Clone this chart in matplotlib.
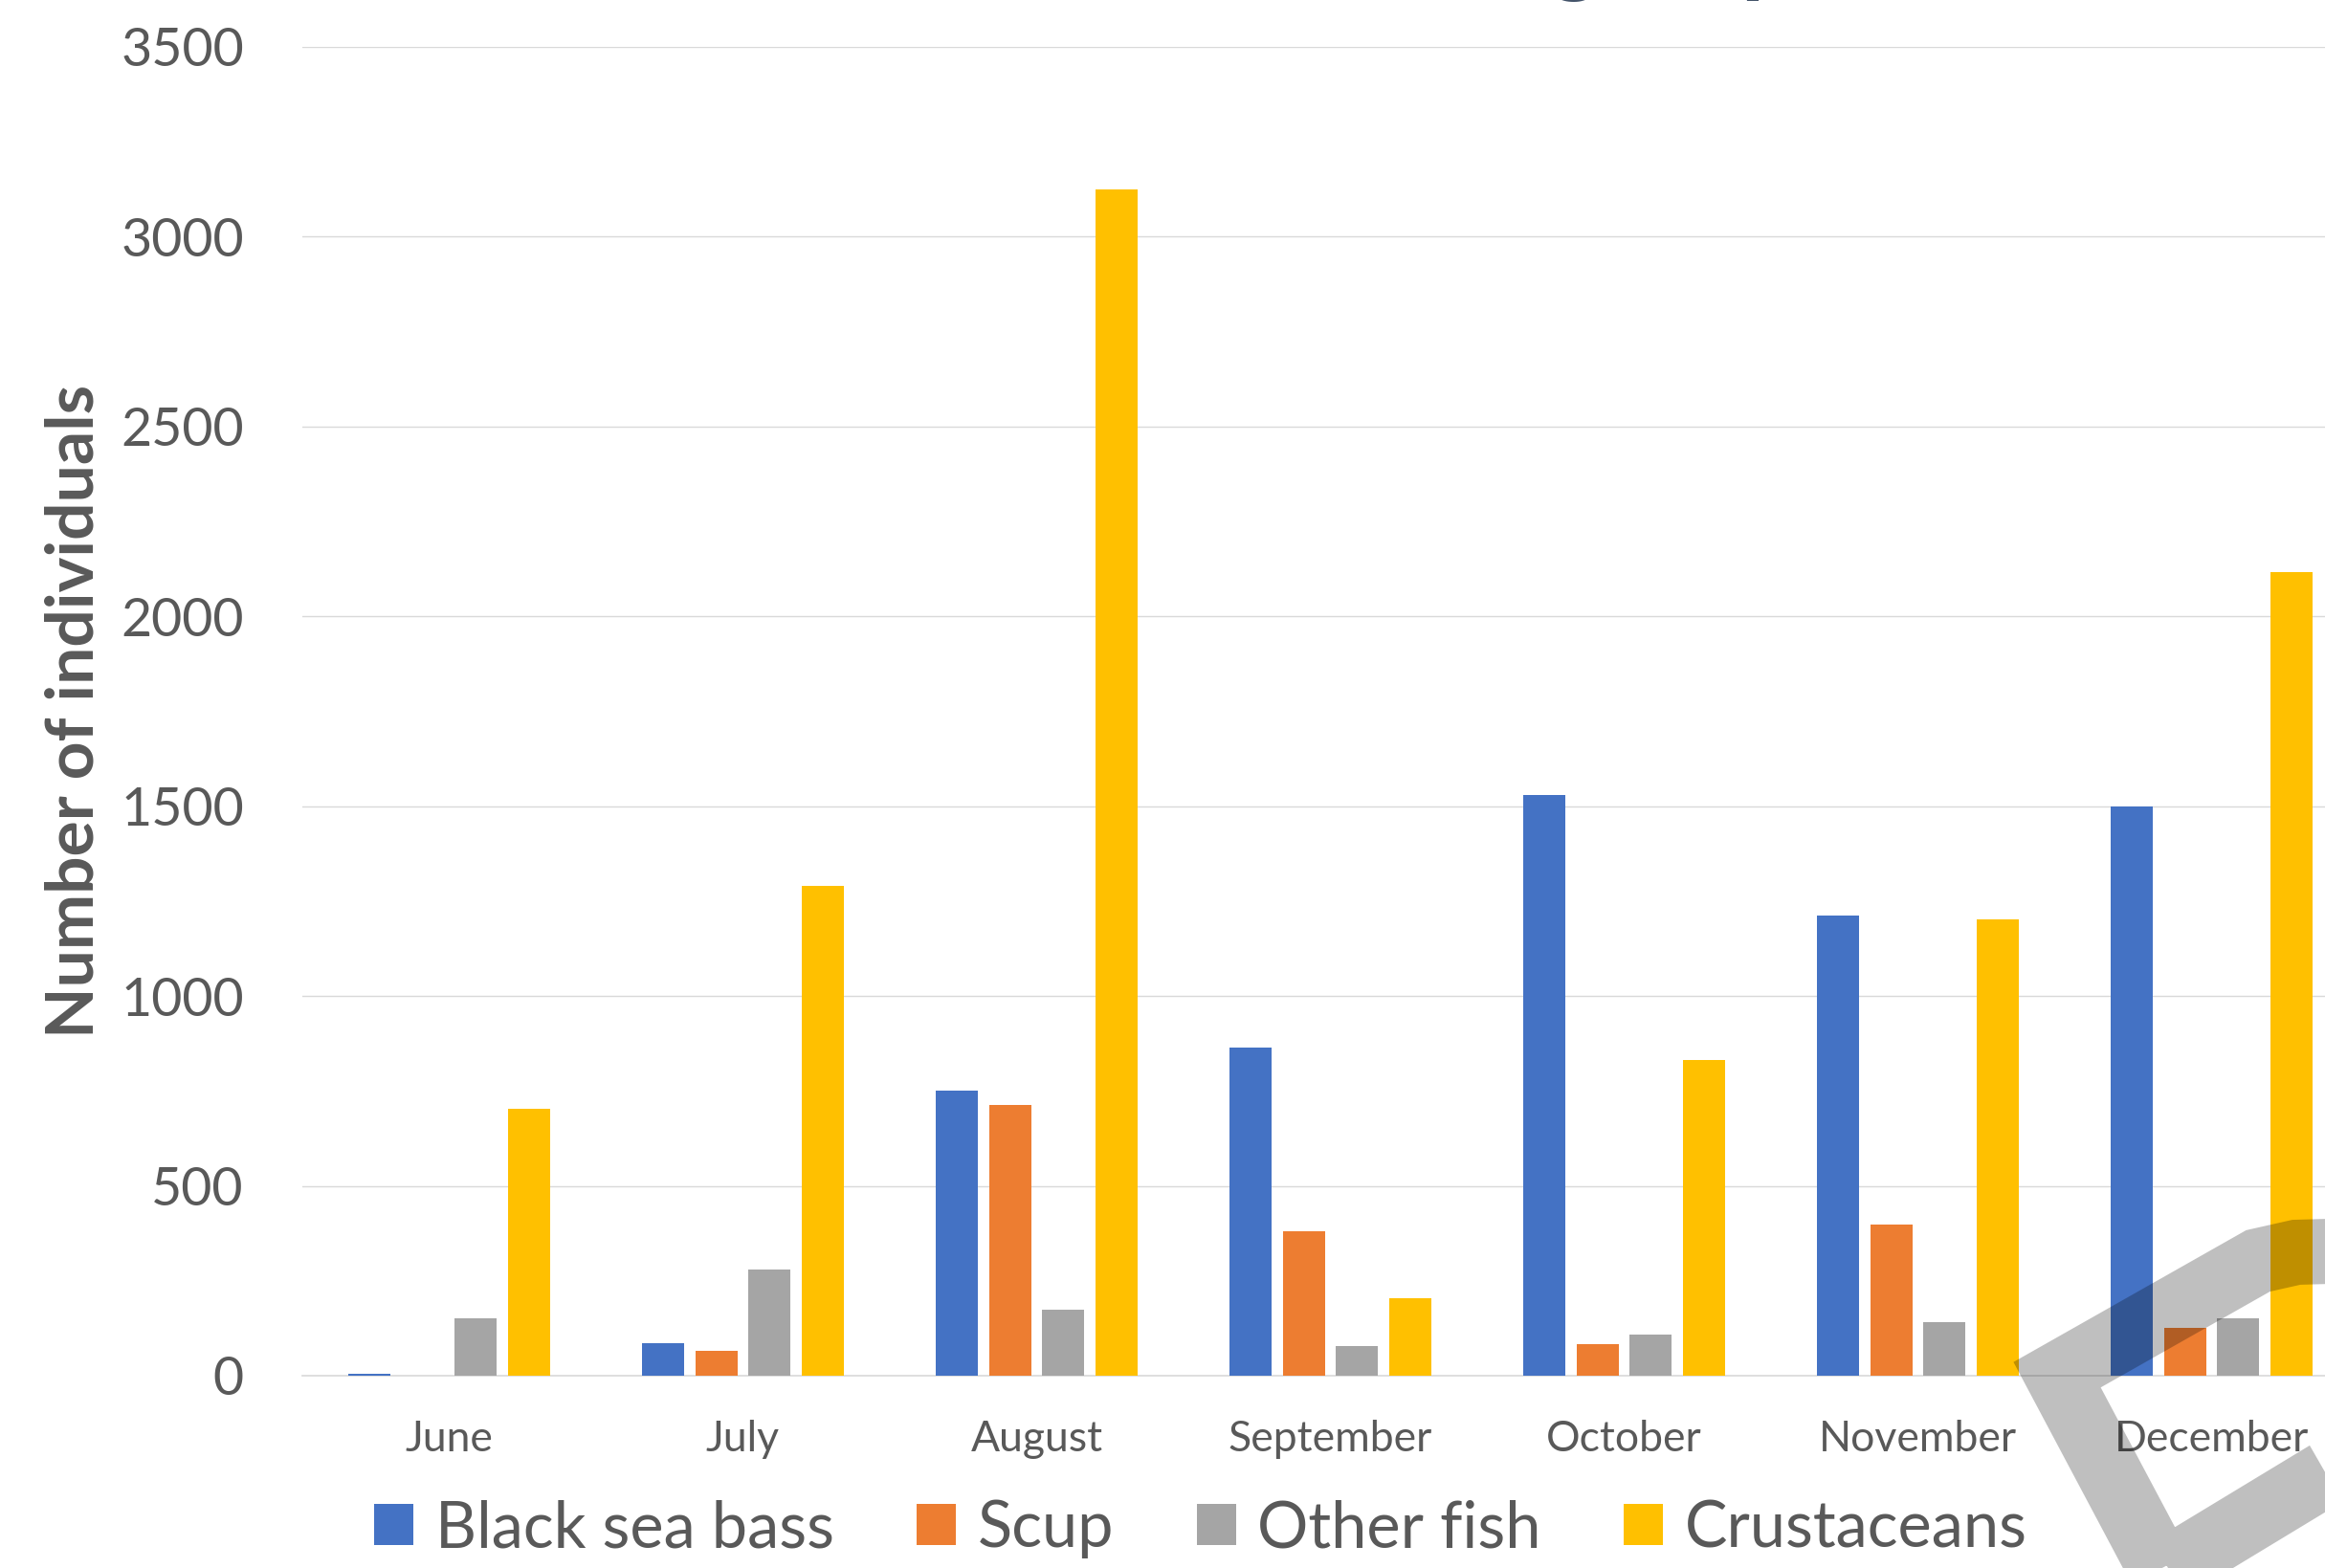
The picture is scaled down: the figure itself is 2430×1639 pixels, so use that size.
import matplotlib
matplotlib.use("Agg")
import matplotlib.pyplot as plt
from matplotlib.patches import Patch
from matplotlib.lines import Line2D
import numpy as np

plt.rcParams['font.family'] = ['Lato', 'DejaVu Sans']

# Data
months = ["June", "July", "August", "September", "October", "November", "December"]
black_sea_bass = [5, 85, 752, 864, 1530, 1212, 1499]
scup = [0, 66, 712, 380, 84, 398, 125]
other_fish = [152, 279, 173, 77, 109, 141, 150]
crustaceans = [704, 1290, 3125, 203, 832, 1203, 2117]

series_names = ["Black sea bass", "Scup", "Other fish", "Crustaceans"]
series_values = [black_sea_bass, scup, other_fish, crustaceans]
colors = ["#4472C4", "#ED7D31", "#A5A5A5", "#FFC000"]

TEXT = "#595959"
GRID = "#D9D9D9"
W, H = 2430, 1639

fig = plt.figure(figsize=(W / 100, H / 100), dpi=100)
ax = fig.add_axes([316 / W, 1 - 1438 / H, (2465 - 316) / W, (1438 - 49) / H])

x = np.arange(len(months))
pitch, width = 0.181, 0.142
for i, (name, vals, c) in enumerate(zip(series_names, series_values, colors)):
    ax.bar(x + (i - 1.5) * pitch, vals, width=width, color=c, label=name, zorder=3)

ax.set_xlim(-0.5, len(months) - 0.5)
ax.set_ylim(0, 3500)
ax.set_yticks(np.arange(0, 3501, 500))
ax.set_xticks(x)
ax.set_xticklabels(months)
ax.tick_params(axis="y", length=0, pad=44, labelsize=40, labelcolor=TEXT)
ax.tick_params(axis="x", length=0, pad=33, labelsize=32, labelcolor=TEXT)
ax.grid(axis="y", color=GRID, lw=1.0, zorder=0)
for s in ["top", "right", "left"]:
    ax.spines[s].set_visible(False)
ax.spines["bottom"].set_color(GRID)
ax.spines["bottom"].set_linewidth(1.2)

ax.set_ylabel("Number of individuals", fontsize=50, fontweight="bold", color=TEXT, labelpad=12)

# legend along the bottom
handles = [Patch(facecolor=c, edgecolor="none") for c in colors]
fig.legend(handles, series_names, loc="center", bbox_to_anchor=(0.5165, 0.025), ncol=4,
           frameon=False, fontsize=48, labelcolor=TEXT, handlelength=0.61, handleheight=0.61,
           handletextpad=0.34, columnspacing=1.3, borderaxespad=0)

# title, mostly cut off by the top edge
fig.text(1620 / W, 1 + 16 / H, "group", fontsize=71, fontweight="bold", color="#44546A",
         ha="left", va="baseline")

# grey chevron shape overlaid on the bottom right
wm_x = [2470, 2400, 2360, 2150, 2260, 2430, 2470]
wm_y = [1307, 1309, 1318, 1437, 1644, 1541, 1518]
fig.add_artist(Line2D([v / W for v in wm_x], [1 - v / H for v in wm_y], transform=fig.transFigure,
                      color="black", alpha=0.25, lw=49, solid_joinstyle="miter",
                      solid_capstyle="butt", zorder=10))

fig.savefig("out.png", dpi=100)
